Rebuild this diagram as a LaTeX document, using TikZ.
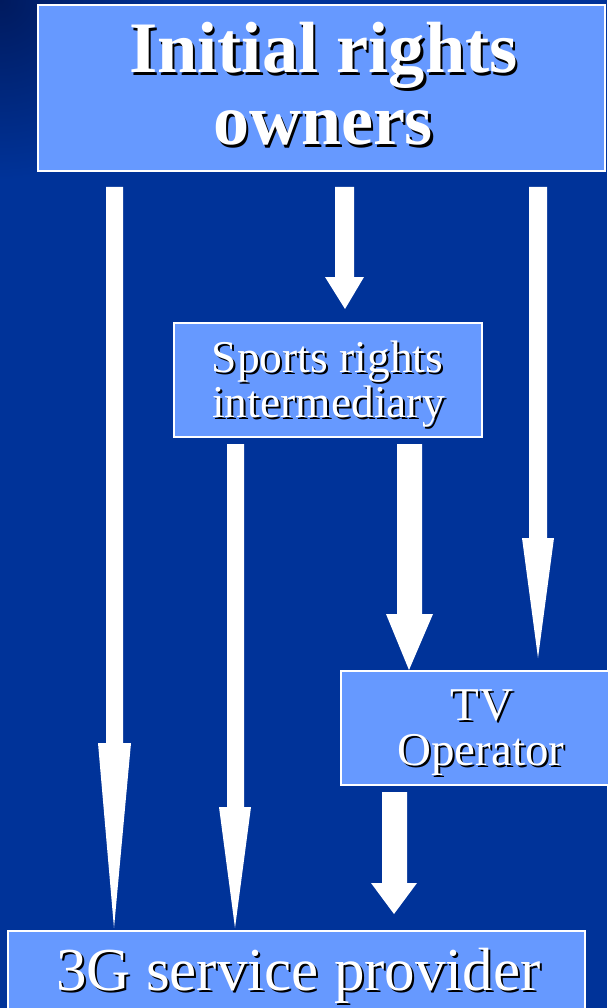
\documentclass[tikz,border=0pt]{standalone}
\usepackage{fontspec}
\setmainfont{Liberation Serif}
\begin{document}
\begin{tikzpicture}[x=1pt,y=-1pt,
  box/.style={draw=white,line width=1.5pt,fill=boxblue,inner sep=0pt},
  lbl/.style={anchor=base,inner sep=0pt,text=white}]
\definecolor{bgblue}{HTML}{003399}
\definecolor{bgdark}{HTML}{001A5E}
\definecolor{boxblue}{HTML}{6699FF}
\useasboundingbox (0,0) rectangle (607,1008);
\fill[bgblue] (0,0) rectangle (607,1008);
\shade[inner color=bgdark,outer color=bgblue] (0,0) circle (180);
% text with drop shadow, in one node
\newcommand\shtxt[2]{\makebox[0pt][l]{\hspace*{#1pt}\raisebox{-#1pt}{\color{black}#2}}#2}
% arrow: shaft x1 x2, y0 yh, head hx1 hx2, tip
\newcommand\warrow[8]{%
  \fill[white] (#1,#3) -- (#2,#3) -- (#2,#4) -- (#6,#4) -- (#7,#8) -- (#5,#4) -- (#1,#4) -- cycle;}
% boxes
\node[box,minimum width=567pt,minimum height=166pt] (owners) at (321.5,88) {};
\node[box,minimum width=308pt,minimum height=114pt] (inter) at (328,380) {};
\node[box,minimum width=280pt,minimum height=114pt] (tv) at (481,728) {};
\node[box,minimum width=577pt,minimum height=110pt] (g3) at (296.5,986) {};
% texts
\node[lbl,font=\fontsize{72.5}{72}\bfseries,text depth=8pt] (t1) at (323.5,73) {\shtxt{2.2}{Initial rights}};
\node[lbl,font=\fontsize{72}{72}\bfseries,text height=50pt] (t2) at (323,145) {\shtxt{2.2}{owners}};
\node[lbl,font=\fontsize{45.5}{45}\selectfont,text depth=6pt] (t3) at (327.5,372) {\shtxt{2}{Sports rights}};
\node[lbl,font=\fontsize{45.5}{45}\selectfont,text height=30pt] (t4) at (328.5,417) {\shtxt{2}{intermediary}};
\node[lbl,font=\fontsize{47}{47}\selectfont,text depth=6pt] (t5) at (482,720) {\shtxt{2}{TV}};
\node[lbl,font=\fontsize{47}{47}\selectfont,text height=32pt] (t6) at (481,765) {\shtxt{2}{Operator}};
\node[lbl,font=\fontsize{61}{61}\selectfont] (t7) at (298.5,990) {\shtxt{2}{3G service provider}};
% arrows
\warrow{106}{123}{187}{743}{98}{131}{114}{928}
\warrow{335}{354}{187}{277}{325}{364}{345}{309}
\warrow{529}{547}{187}{538}{522}{554}{538}{658}
\warrow{227}{244}{444}{807}{219}{251}{235}{928}
\warrow{397}{422}{444}{614}{386}{433}{409}{670}
\warrow{382}{407}{792}{883}{371}{417}{394}{914}
\end{tikzpicture}
\end{document}
